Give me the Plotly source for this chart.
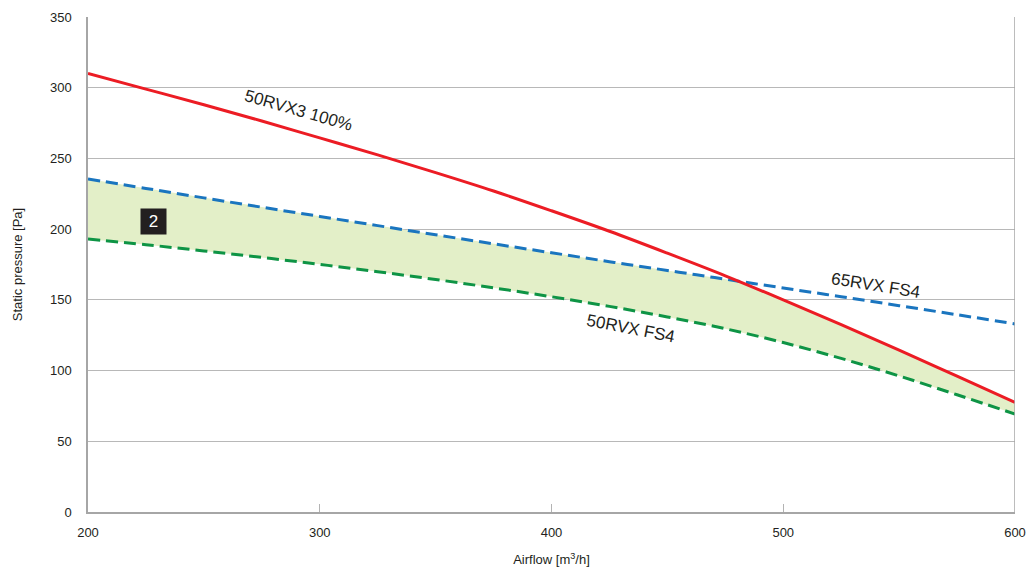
import plotly.graph_objects as go

# Data
airflow = [200, 225, 250, 275, 300, 325, 350, 375, 400, 425, 450, 475, 500, 525, 550, 575, 600]
rvx3_100 = [310, 299, 288, 276.5, 264.5, 252.5, 240, 227, 213, 198.5, 183, 167, 150, 132.5, 114.5, 96, 77.5]
rvx65_fs4 = [235.5, 228.8, 222.1, 215.5, 209, 202.5, 196, 189.6, 183.3, 177, 170.8, 164.6, 158.4, 152.2, 145.9, 139.5, 133]
rvx50_fs4 = [193, 189, 184.6, 180, 175.1, 169.9, 164.4, 158.5, 152.2, 145.4, 137.9, 129.6, 119.8, 108.6, 96.2, 82.9, 69.3]

x_ticks = [200, 300, 400, 500, 600]
y_ticks = [0, 50, 100, 150, 200, 250, 300, 350]

labels = [
    {"text": "50RVX3 100%", "x": 291, "y": 284, "angle": 16},
    {"text": "65RVX FS4", "x": 540, "y": 160.5, "angle": 9},
    {"text": "50RVX FS4", "x": 434, "y": 129.5, "angle": 11},
]
zone_label = {"text": "2", "x": 228.2, "y": 205.4}

# Upper boundary of the shaded zone: lower of the two upper curves,
# including the exact crossing points between samples.
upper_x, upper_y = [], []
for i in range(len(airflow)):
    upper_x.append(airflow[i])
    upper_y.append(min(rvx65_fs4[i], rvx3_100[i]))
    if i + 1 < len(airflow):
        d0 = rvx65_fs4[i] - rvx3_100[i]
        d1 = rvx65_fs4[i + 1] - rvx3_100[i + 1]
        if d0 * d1 < 0:
            t = d0 / (d0 - d1)
            upper_x.append(airflow[i] + t * (airflow[i + 1] - airflow[i]))
            upper_y.append(rvx65_fs4[i] + t * (rvx65_fs4[i + 1] - rvx65_fs4[i]))

RED = "#ec1c24"
BLUE = "#1a75bf"
GREEN = "#0e9445"
FILL = "#e3efc8"
FONT = "Liberation Sans, Arial, Helvetica, sans-serif"

fig = go.Figure()

fig.add_trace(go.Scatter(x=airflow, y=rvx50_fs4, mode="lines", line=dict(width=0, color=FILL, shape="spline"),
                         hoverinfo="skip", showlegend=False))
fig.add_trace(go.Scatter(x=upper_x, y=upper_y, mode="lines", line=dict(width=0, color=FILL),
                         fill="tonexty", fillcolor=FILL, hoverinfo="skip", showlegend=False))

fig.add_trace(go.Scatter(x=airflow, y=rvx65_fs4, mode="lines", name="65RVX FS4",
                         line=dict(color=BLUE, width=3, dash="12px,6px", shape="spline")))
fig.add_trace(go.Scatter(x=airflow, y=rvx50_fs4, mode="lines", name="50RVX FS4",
                         line=dict(color=GREEN, width=3, dash="12px,6px", shape="spline")))
fig.add_trace(go.Scatter(x=airflow, y=rvx3_100, mode="lines", name="50RVX3 100%",
                         line=dict(color=RED, width=3, shape="spline")))

for lb in labels:
    fig.add_annotation(x=lb["x"], y=lb["y"], text=lb["text"], textangle=lb["angle"],
                       showarrow=False, font=dict(family=FONT, size=17, color="#231f20"))

fig.add_annotation(x=zone_label["x"], y=zone_label["y"], text=zone_label["text"],
                   showarrow=False, bgcolor="#231f20", width=19, height=19, borderpad=3,
                   font=dict(family=FONT, size=17, color="white"))

fig.update_layout(
    width=1027, height=569,
    margin=dict(l=88, r=12, t=17, b=57, autoexpand=False),
    paper_bgcolor="white", plot_bgcolor="white",
    showlegend=False,
    font=dict(family=FONT, size=13, color="#231f20"),
    xaxis=dict(
        range=[200, 600], tickvals=x_ticks, ticks="inside", ticklen=8, tickcolor="#b3b3b3",
        showgrid=False, showline=True, linecolor="#a6a6a6", linewidth=1.5, mirror=False,
        zeroline=False, ticklabelstandoff=8, automargin=False, ticklabeloverflow="allow",
        title=dict(text="Airflow [m<sup>3</sup>/h]", standoff=16, font=dict(size=13)),
    ),
    yaxis=dict(
        range=[0, 350], tickvals=y_ticks, showgrid=True, gridcolor="#b8b8b8", gridwidth=1,
        showline=True, linecolor="#a6a6a6", linewidth=1.5, mirror=False, zeroline=False,
        ticks="", ticklabelstandoff=12, automargin=False,
        title=dict(text="Static pressure [Pa]", standoff=24, font=dict(size=13)),
    ),
)

# right frame line at the end of the airflow range
fig.add_shape(type="line", xref="x", yref="paper", x0=600, x1=600, y0=0, y1=1,
              line=dict(color="#a6a6a6", width=1.5))

# remove the browser's default page margin so the figure fills the window exactly
fig.write_html("out.html", config={"displayModeBar": False},
               post_script="document.body.style.margin='0';")
